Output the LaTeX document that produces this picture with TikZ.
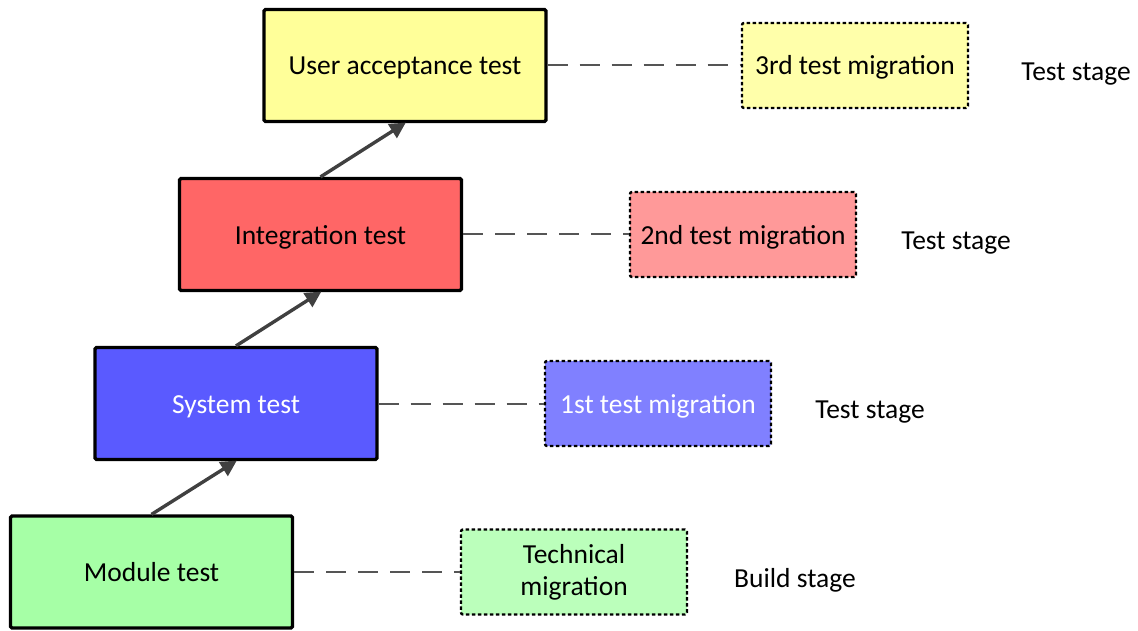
\documentclass[tikz,border=0pt]{standalone}
\usepackage{fontspec}
\setmainfont{Carlito}
\usetikzlibrary{arrows.meta}
\definecolor{modgreen}{HTML}{A6FFA6}
\definecolor{migreen}{HTML}{BBFFBB}
\definecolor{sysblue}{HTML}{5A5AFF}
\definecolor{miblue}{HTML}{8080FF}
\definecolor{intred}{HTML}{FF6666}
\definecolor{mired}{HTML}{FF9999}
\definecolor{uatyellow}{HTML}{FFFF99}
\definecolor{miyellow}{HTML}{FFFFAA}
\definecolor{arrowgray}{HTML}{404040}
\definecolor{linkgray}{HTML}{555555}
\tikzset{
  fixedline/.style={text height=19pt, text depth=0pt},
  stagebox/.style={draw=black, line width=3.2pt, rounded corners=1.5pt,
    minimum width=282pt, minimum height=112pt, inner sep=0pt, fixedline,
    font=\fontsize{27.5}{32}\selectfont},
  migbox/.style={draw=black, line width=2.4pt, dash pattern=on 3.5pt off 2.5pt,
    rounded corners=2pt, minimum width=226pt, minimum height=85pt,
    inner sep=0pt, align=center, font=\fontsize{27.5}{32}\selectfont},
  stagelabel/.style={font=\fontsize{27.5}{32}\selectfont, inner sep=0pt, fixedline},
  flow/.style={draw=arrowgray, line width=3.4pt,
    -{Triangle[length=16pt,width=16pt]}, shorten >=-1pt},
  link/.style={draw=linkgray, line width=2pt, dash pattern=on 20pt off 12pt}
}
\begin{document}
\begin{tikzpicture}[x=1pt,y=-1pt]
\useasboundingbox (0,0) rectangle (1138,631);
% development stages
\node[stagebox, fill=modgreen]  (module) at (151.5,572) {Module test};
\node[stagebox, fill=sysblue, text=white] (system) at (236,403.5) {System test};
\node[stagebox, fill=intred]    (integ)  at (320.5,234.5) {Integration test};
\node[stagebox, fill=uatyellow] (uat)    at (405,65.5) {User acceptance test};
% migrations
\node[migbox, fill=migreen]  (techmig) at (574,572) {Technical\\migration};
\node[migbox, fill=miblue, text=white, fixedline] (mig1) at (658,403.5) {1st test migration};
\node[migbox, fill=mired, fixedline]    (mig2) at (743,234.5) {2nd test migration};
\node[migbox, fill=miyellow, fixedline] (mig3) at (855,65.5) {3rd test migration};
% stage labels
\node[stagelabel] (lbl0) at (795,578) {Build stage};
\node[stagelabel] (lbl1) at (870,409) {Test stage};
\node[stagelabel] (lbl2) at (956,240) {Test stage};
\node[stagelabel] (lbl3) at (1076,71) {Test stage};
% progression arrows
\draw[flow] (module.north) -- (system.south);
\draw[flow] (system.north) -- (integ.south);
\draw[flow] (integ.north) -- (uat.south);
% links to migrations
\draw[link] (module.east) -- (techmig.west);
\draw[link] (system.east) -- (mig1.west);
\draw[link] (integ.east) -- (mig2.west);
\draw[link] (uat.east) -- (mig3.west);
\end{tikzpicture}
\end{document}
